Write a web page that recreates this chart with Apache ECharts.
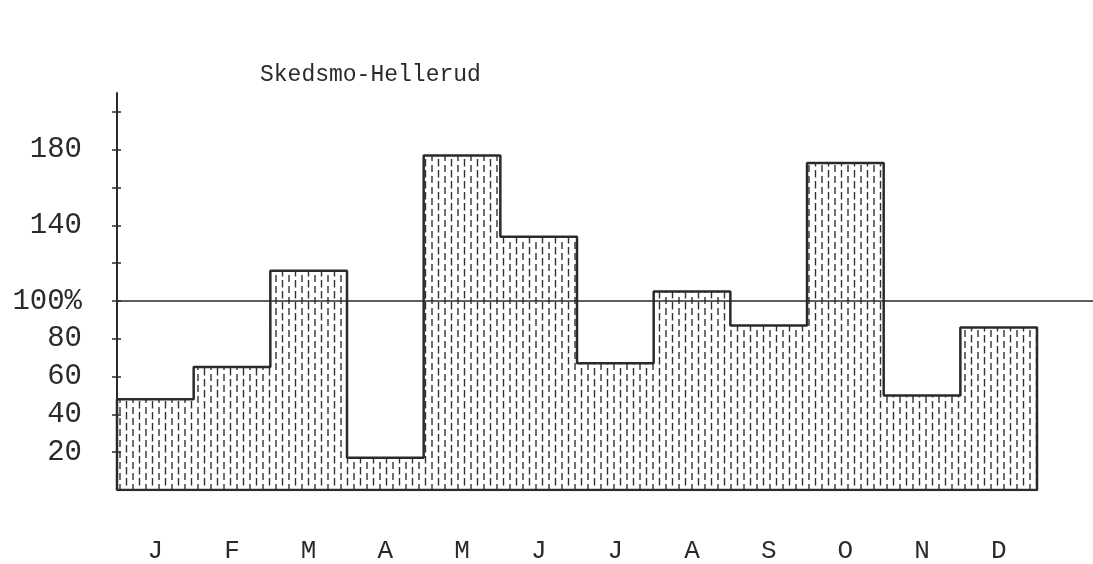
<!DOCTYPE html>
<html>
<head>
<meta charset="utf-8">
<script src="https://cdn.jsdelivr.net/npm/echarts@6/dist/echarts.min.js"></script>
<style>
  html, body { margin: 0; padding: 0; background: #fff; }
  #Echarts { width: 1093px; height: 564px; }
</style>
</head>
<body>
<div id="Echarts"></div>
<script>
// data
var months = ['J', 'F', 'M', 'A', 'M', 'J', 'J', 'A', 'S', 'O', 'N', 'D'];
var percent = [48, 65, 116, 17, 177, 134, 67, 105, 87, 173, 50, 86];
var yTicks = [20, 40, 60, 80, 100, 120, 140, 160, 180, 200];
var yLabels = [20, 40, 60, 80, 100, 140, 180];
var refLine = 100;

var ink = '#2a2a2a';
var font = 'Liberation Mono';

// hatch: short vertical dashes
function makeHatch () {
    var c = document.createElement('canvas');
    c.width = 13;
    c.height = 11;
    var ctx = c.getContext('2d');
    ctx.strokeStyle = '#333';
    ctx.lineWidth = 1.4;
    ctx.beginPath();
    ctx.moveTo(3, 0); ctx.lineTo(3, 7);
    ctx.moveTo(9.5, 5); ctx.lineTo(9.5, 11);
    ctx.moveTo(9.5, 0); ctx.lineTo(9.5, 1.5);
    ctx.stroke();
    return c;
}

// step outline built from the monthly values
var outline = [[0, 0]];
percent.forEach(function (v, i) {
    outline.push([i, v]);
    outline.push([i + 1, v]);
});
outline.push([months.length, 0]);
outline.push([0, 0]);

var monthCenters = months.map(function (m, i) { return i + 0.5; });

var myChart = echarts.init(document.getElementById('Echarts'));

var option = {
    animation: false,
    backgroundColor: '#fff',
    title: {
        text: 'Skedsmo-Hellerud',
        left: 255,
        top: 58,
        textStyle: { fontFamily: font, fontSize: 23, fontWeight: 'normal', color: ink }
    },
    grid: { left: 117, right: 0, top: 93, bottom: 74 },
    xAxis: {
        type: 'value',
        min: 0,
        max: 12.73,
        axisLine: { show: false },
        axisTick: { show: false },
        splitLine: { show: false },
        axisLabel: {
            customValues: monthCenters,
            formatter: function (v) { return months[Math.floor(v)]; },
            fontFamily: font,
            fontSize: 26,
            color: ink,
            margin: 48
        }
    },
    yAxis: [{
        type: 'value',
        min: 0,
        max: 210,
        axisLine: { show: true, lineStyle: { color: ink, width: 2 } },
        axisTick: { show: true, customValues: yTicks, length: 5, lineStyle: { color: ink, width: 1.5 } },
        splitLine: { show: false },
        axisLabel: {
            customValues: yLabels,
            formatter: function (v) { return v === refLine ? v + '%' : String(v); },
            fontFamily: font,
            fontSize: 29,
            color: ink,
            margin: 35
        }
    }, {
        type: 'value',
        min: 0,
        max: 210,
        position: 'left',
        axisLine: { show: false },
        axisTick: { show: true, inside: true, customValues: yTicks, length: 4, lineStyle: { color: ink, width: 1.5 } },
        axisLabel: { show: false },
        splitLine: { show: false }
    }],
    series: [{
        type: 'line',
        data: outline,
        symbol: 'none',
        silent: true,
        lineStyle: { color: ink, width: 2.5 },
        areaStyle: { color: { image: makeHatch(), repeat: 'repeat' }, opacity: 1 },
        markLine: {
            silent: true,
            symbol: 'none',
            label: { show: false },
            lineStyle: { color: ink, width: 1.6, type: 'solid' },
            data: [{ yAxis: refLine }]
        }
    }]
};

myChart.setOption(option);
</script>
</body>
</html>
